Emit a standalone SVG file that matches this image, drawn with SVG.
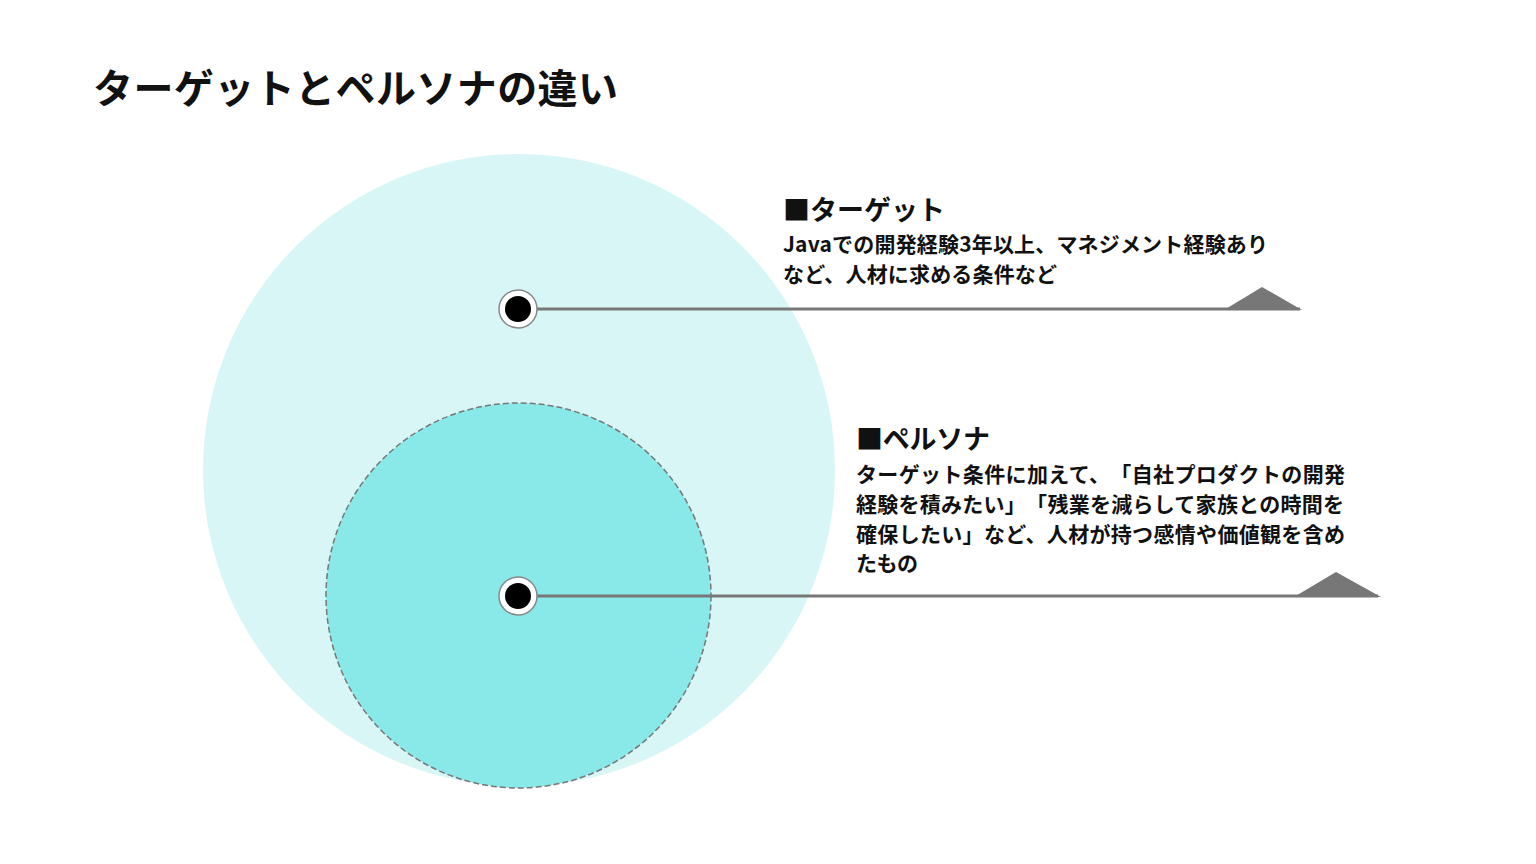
<svg xmlns="http://www.w3.org/2000/svg" width="1536" height="864" viewBox="0 0 1536 864">
<style>
text{font-family:"Noto Sans CJK JP","Noto Sans",sans-serif;font-weight:700;fill:#111;text-spacing-trim:space-all;font-feature-settings:"chws" 0,"halt" 0,"palt" 0}
.title{font-size:40px}
.head{font-size:27px}
.body{font-size:21px}
.line{stroke:#777;stroke-width:3;fill:none}
.tri{fill:#777}
.ring{fill:#fff;stroke:#888;stroke-width:1.5}
.dot{fill:#000}
</style>
<rect width="1536" height="864" fill="#fff"/>
<text class="title" x="93" y="103" textLength="525" lengthAdjust="spacing">ターゲットとペルソナの違い</text>
<g id="target-circle"><circle cx="519" cy="470" r="316" fill="#d9f6f6"/></g>
<g id="persona-circle"><circle cx="518.5" cy="595.5" r="192.5" fill="#88e9e8" stroke="#777" stroke-width="1.5" stroke-dasharray="6,3"/></g>
<g id="connectors">
<line class="line" x1="518" y1="309" x2="1300" y2="309"/>
<polygon class="tri" points="1224,310 1262,287 1302,310"/>
<line class="line" x1="518" y1="596" x2="1378" y2="596"/>
<polygon class="tri" points="1294,597 1336,572 1381,597"/>
</g>
<g id="target-dot"><circle class="ring" cx="518" cy="309" r="19"/><circle class="dot" cx="518" cy="309" r="13"/></g>
<g id="persona-dot"><circle class="ring" cx="518" cy="596" r="19"/><circle class="dot" cx="518" cy="596" r="13"/></g>
<g id="target-label">
<text class="head" x="783" y="220" textLength="162" lengthAdjust="spacing">■ターゲット</text>
<text class="body" x="783" y="252" textLength="485" lengthAdjust="spacing">Javaでの開発経験3年以上、マネジメント経験あり</text>
<text class="body" x="783" y="282" textLength="274" lengthAdjust="spacing">など、人材に求める条件など</text>
</g>
<g id="persona-label">
<text class="head" x="856" y="449" textLength="134" lengthAdjust="spacing">■ペルソナ</text>
<text class="body" x="856" y="482" textLength="489" lengthAdjust="spacing">ターゲット条件に加えて、「自社プロダクトの開発</text>
<text class="body" x="856" y="512" textLength="488" lengthAdjust="spacing">経験を積みたい」「残業を減らして家族との時間を</text>
<text class="body" x="856" y="542" textLength="489" lengthAdjust="spacing">確保したい」など、人材が持つ感情や価値観を含め</text>
<text class="body" x="856" y="571" textLength="62" lengthAdjust="spacing">たもの</text>
</g>
</svg>
